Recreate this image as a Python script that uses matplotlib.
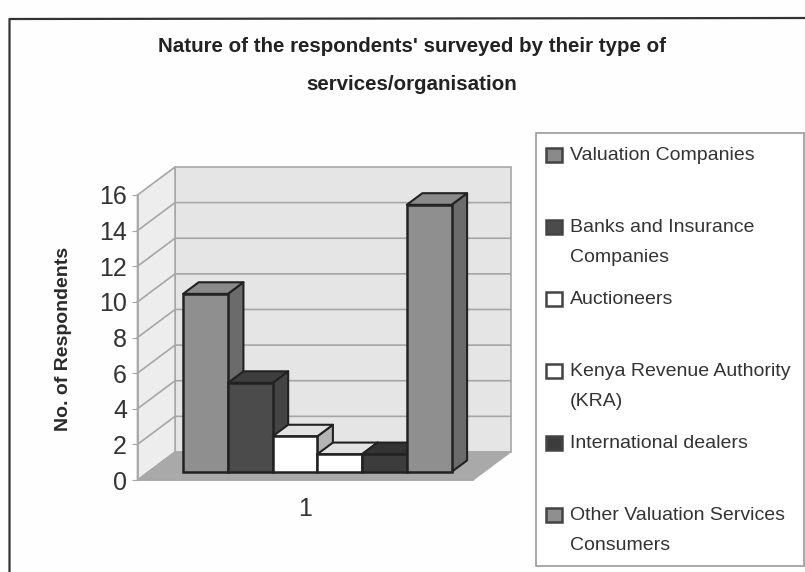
import matplotlib
matplotlib.use('Agg')
import matplotlib.pyplot as plt
from matplotlib.patches import Polygon, Rectangle

plt.rcParams['font.family'] = ['Liberation Sans', 'DejaVu Sans']

title_lines = ["Nature of the respondents' surveyed by their type of", "services/organisation"]
ylabel = 'No. of Respondents'
categories = ['Valuation Companies', 'Banks and Insurance\nCompanies', 'Auctioneers',
              'Kenya Revenue Authority\n(KRA)', 'International dealers',
              'Other Valuation Services\nConsumers']
respondents = [10, 5, 2, 1, 1, 15]
yticks = [0, 2, 4, 6, 8, 10, 12, 14, 16]

face_colors = ['#8f8f8f', '#4b4b4b', '#ffffff', '#ffffff', '#3c3c3c', '#8f8f8f']
top_colors = ['#8a8a8a', '#3e3e3e', '#e2e2e2', '#e2e2e2', '#333333', '#8a8a8a']
side_colors = ['#6b6b6b', '#444444', '#b4b4b4', '#b4b4b4', '#333333', '#6b6b6b']
swatch_colors = ['#8a8a8a', '#4b4b4b', '#ffffff', '#ffffff', '#3c3c3c', '#8f8f8f']
legend_y = [155, 227, 299, 371, 443, 515]

W, H = 805, 572
EDGE = '#222222'
GRID = '#a6a6a6'

# depth of the box, in data units per unit of depth
DX = 0.84
DY = 1.573
BAR_FRONT = 0.286
BAR_BACK = 0.70
BAR_SHIFT = 0.03


def project(x, v, d):
    return x + DX * d, v + DY * d


def poly(ax, pts, **kw):
    ax.add_patch(Polygon([project(*p) for p in pts], closed=True, clip_on=False, **kw))


fig = plt.figure(figsize=(W / 100, H / 100), dpi=100, facecolor='#fefefe')
ax = fig.add_axes([137.5 / W, 1 - 480 / H, 335.5 / W, 285 / H], facecolor='none')
ax.set_xlim(-0.75, 6.75)
ax.set_ylim(0, 16)

x0, x1 = ax.get_xlim()
# walls and floor
poly(ax, [(x0, 0, 1), (x1, 0, 1), (x1, 16, 1), (x0, 16, 1)], fc='#e5e5e5', ec=GRID, lw=1.2, zorder=1)
poly(ax, [(x0, 0, 0), (x0, 0, 1), (x0, 16, 1), (x0, 16, 0)], fc='#ededed', ec=GRID, lw=1.2, zorder=1)
poly(ax, [(x0, 0, 0), (x1, 0, 0), (x1, 0, 1), (x0, 0, 1)], fc='#a9a9a9', ec='#a9a9a9', lw=1, zorder=2)
for v in yticks[1:-1]:
    xs, ys = zip(project(x0, v, 0), project(x0, v, 1), project(x1, v, 1))
    ax.plot(xs, ys, color=GRID, lw=1.2, zorder=2, clip_on=False)

# bars, left to right so each front covers the previous side
for i, v in enumerate(respondents):
    z = 3 + i
    left = i + BAR_SHIFT
    right = left + 1
    poly(ax, [(right, 0, BAR_FRONT), (right, 0, BAR_BACK), (right, v, BAR_BACK), (right, v, BAR_FRONT)],
         fc=side_colors[i], ec=EDGE, lw=1.5, zorder=z, joinstyle='round')
    poly(ax, [(left, v, BAR_FRONT), (right, v, BAR_FRONT), (right, v, BAR_BACK), (left, v, BAR_BACK)],
         fc=top_colors[i], ec=EDGE, lw=1.5, zorder=z, joinstyle='round')
    fx, fy = project(left, 0, BAR_FRONT)
    ax.bar(fx, v, width=1, bottom=fy, align='edge', color=face_colors[i], edgecolor=EDGE,
           linewidth=1.8, zorder=z + 0.5, clip_on=False)

for side in ['top', 'right']:
    ax.spines[side].set_visible(False)
for side in ['left', 'bottom']:
    ax.spines[side].set_color(GRID)
    ax.spines[side].set_linewidth(1.2)
    ax.spines[side].set_zorder(20)
ax.set_yticks(yticks)
ax.set_xticks([3])
ax.set_xticklabels(['1'])
ax.tick_params(axis='y', length=4, color=GRID, labelsize=18, labelcolor='#333333', pad=3.5)
ax.tick_params(axis='x', length=0, labelsize=18, labelcolor='#333333', pad=12)
fig.text(63 / W, 1 - 339 / H, ylabel, rotation=90, ha='center', va='center',
         fontsize=14, fontweight='bold', color='#2a2a2a')

# title
for line, y in zip(title_lines, [47, 84]):
    fig.text(412 / W, 1 - y / H, line, ha='center', va='center', fontsize=14.8,
             fontweight='bold', color='#222222')

# chart frame
frame = fig.add_axes([0, 0, 1, 1], facecolor='none', zorder=10)
frame.set_xlim(0, W)
frame.set_ylim(H, 0)
frame.axis('off')
frame.plot([9.5, 9.5, W], [H, 19, 18], color='#333333', lw=1.6)

# legend box
frame.add_patch(Rectangle((536, 133), 268, 433, fc='white', ec='#9a9a9a', lw=1.2))
for name, y, c in zip(categories, legend_y, swatch_colors):
    frame.add_patch(Rectangle((546, y - 7), 16, 14, fc=c, ec='#444444', lw=1.8))
    lines = name.split('\n')
    for k, line in enumerate(lines):
        frame.text(570, y + k * 31, line, ha='left', va='center', fontsize=14, color='#333333')

fig.savefig('out.png', dpi=100, facecolor=fig.get_facecolor())
